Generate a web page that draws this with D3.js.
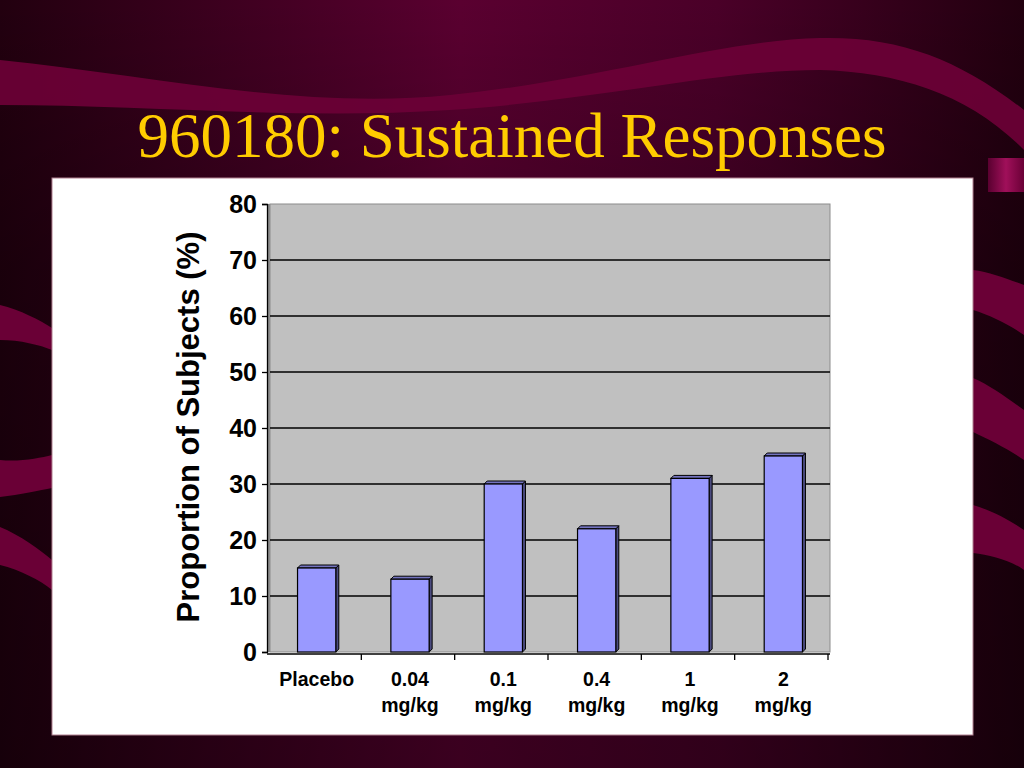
<!DOCTYPE html>
<html><head><meta charset="utf-8">
<script src="https://cdn.jsdelivr.net/npm/d3@7"></script>
<style>html,body{margin:0;padding:0;background:#2a0012;overflow:hidden}</style>
</head><body>
<script>
const categories = [["Placebo"],["0.04","mg/kg"],["0.1","mg/kg"],["0.4","mg/kg"],["1","mg/kg"],["2","mg/kg"]];
const values = [15, 13, 30, 22, 31, 35];
const yTicks = [0,10,20,30,40,50,60,70,80];
const titleText = "960180: Sustained Responses";
const yTitle = "Proportion of Subjects (%)";

(function(){
const W=1024,H=768;
const svg=d3.select("body").append("svg").attr("width",W).attr("height",H);
const defs=svg.append("defs");
const bg=defs.append("linearGradient").attr("id","bg").attr("x1",0).attr("x2",1).attr("y1",0).attr("y2",0);
bg.append("stop").attr("offset","0%").attr("stop-color","#22000f");
bg.append("stop").attr("offset","45%").attr("stop-color","#5a0030");
bg.append("stop").attr("offset","70%").attr("stop-color","#4a0028");
bg.append("stop").attr("offset","100%").attr("stop-color","#22000f");
svg.append("rect").attr("width",W).attr("height",H).attr("fill","url(#bg)");
const bg2=defs.append("linearGradient").attr("id","bg2").attr("x1",0).attr("x2",0).attr("y1",0).attr("y2",1);
bg2.append("stop").attr("offset","0%").attr("stop-color","#000").attr("stop-opacity",0);
bg2.append("stop").attr("offset","35%").attr("stop-color","#000").attr("stop-opacity",0.25);
bg2.append("stop").attr("offset","100%").attr("stop-color","#000").attr("stop-opacity",0.35);
svg.append("rect").attr("width",W).attr("height",H).attr("fill","url(#bg2)");

const band="#6a0036";
svg.append("path").attr("fill",band).attr("opacity",0.95)
 .attr("d","M0,60 C150,75 300,110 450,95 C600,80 720,40 820,38 C900,36 960,60 1024,110 L1024,150 C970,95 900,72 820,70 C720,70 600,100 450,110 C300,120 150,105 0,105 Z");
svg.append("path").attr("fill",band).attr("d","M0,305 C20,310 40,320 52,328 L52,350 C40,345 20,340 0,340 Z");
svg.append("path").attr("fill",band).attr("d","M0,460 C20,462 40,458 52,455 L52,488 C40,490 20,495 0,497 Z");
svg.append("path").attr("fill",band).attr("d","M0,527 C20,535 40,550 52,560 L52,590 C40,580 20,570 0,565 Z");
svg.append("path").attr("fill",band).attr("d","M973,270 C990,272 1010,280 1024,285 L1024,335 C1010,325 990,315 973,310 Z");
svg.append("path").attr("fill",band).attr("d","M973,378 C990,385 1010,400 1024,410 L1024,460 C1010,450 990,440 973,432 Z");
svg.append("path").attr("fill",band).attr("d","M973,505 C990,510 1010,520 1024,530 L1024,570 C1010,560 990,555 973,553 Z");
const rg=defs.append("linearGradient").attr("id","rg").attr("x1",0).attr("x2",1);
rg.append("stop").attr("offset","0%").attr("stop-color","#5a0030");
rg.append("stop").attr("offset","50%").attr("stop-color","#a0105a");
rg.append("stop").attr("offset","100%").attr("stop-color","#6a0036");
svg.append("rect").attr("x",988).attr("y",158).attr("width",36).attr("height",34).attr("fill","url(#rg)");

svg.append("text").attr("x",512).attr("y",157).attr("text-anchor","middle")
 .attr("font-family","'Liberation Serif','Times New Roman',serif").attr("font-size",63)
 .attr("fill","#ffcc00").text(titleText);

svg.append("rect").attr("x",52).attr("y",178).attr("width",921).attr("height",557).attr("fill","#fff").attr("stroke","#b08090").attr("stroke-width",1);

const pL=270,pR=830,pT=204,pB=652;
const x=d3.scaleBand().domain(d3.range(categories.length)).range([pL,pR]).paddingInner(0.59).paddingOuter(0.295);
const y=d3.scaleLinear().domain([0,80]).range([pB,pT]);
const g=svg.append("g");
g.append("rect").attr("x",pL-3).attr("y",pT).attr("width",3).attr("height",pB-pT).attr("fill","#8c8c8c");
g.append("rect").attr("x",pL).attr("y",pT).attr("width",pR-pL).attr("height",pB-pT).attr("fill","#c0c0c0").attr("stroke","#8c8c8c").attr("stroke-width",1);
g.selectAll(".grid").data(yTicks.filter(d=>d>0&&d<80)).join("line")
 .attr("x1",pL).attr("x2",pR).attr("y1",d=>y(d)).attr("y2",d=>y(d)).attr("stroke","#000").attr("stroke-width",1.3);

const dp=3;
const bars=g.selectAll(".bar").data(values).join("g");
bars.append("path").attr("fill","#4c4c80").attr("stroke","#000").attr("stroke-width",1)
 .attr("d",(d,i)=>{const x0=x(i)+x.bandwidth(),y0=y(d);return `M${x0},${y0} L${x0+dp},${y0-dp} L${x0+dp},${pB-dp} L${x0},${pB} Z`;});
bars.append("path").attr("fill","#7373bf").attr("stroke","#000").attr("stroke-width",1)
 .attr("d",(d,i)=>{const x0=x(i),x1=x(i)+x.bandwidth(),y0=y(d);return `M${x0},${y0} L${x0+dp},${y0-dp} L${x1+dp},${y0-dp} L${x1},${y0} Z`;});
bars.append("rect").attr("x",(d,i)=>x(i)).attr("y",d=>y(d)).attr("width",x.bandwidth()).attr("height",d=>pB-y(d))
 .attr("fill","#9999ff").attr("stroke","#000").attr("stroke-width",1.2);

const yAxis=d3.axisLeft(y).tickValues(yTicks).tickSize(5).tickPadding(5);
const ya=g.append("g").attr("transform",`translate(${pL-3},0)`).call(yAxis);
ya.select(".domain").attr("stroke","#000").attr("stroke-width",1.3);
ya.selectAll(".tick line").attr("stroke","#000").attr("stroke-width",1.3);
ya.selectAll("text").attr("font-family","Arial,'Liberation Sans',sans-serif").attr("font-weight","bold").attr("font-size",25).attr("fill","#000").attr("dy","0.35em");

g.append("line").attr("x1",pL-3).attr("x2",pR).attr("y1",pB+2).attr("y2",pB+2).attr("stroke","#000").attr("stroke-width",1.3);
const xt=d3.range(categories.length+1).map(i=>pL+(pR-pL)*i/categories.length);
g.selectAll(".xt").data(xt.slice(1)).join("line").attr("x1",d=>d-2).attr("x2",d=>d-2).attr("y1",pB+2).attr("y2",pB+8).attr("stroke","#000").attr("stroke-width",1.3);
const xl=g.selectAll(".xl").data(categories).join("text").attr("text-anchor","middle")
 .attr("font-family","Arial,'Liberation Sans',sans-serif").attr("font-weight","bold").attr("font-size",19.5).attr("fill","#000");
xl.each(function(c,i){
  const t=d3.select(this);
  c.forEach((s,j)=>t.append("tspan").attr("x",x(i)+x.bandwidth()/2).attr("y",686+j*26).text(s));
});

svg.append("text").attr("transform","translate(199,427) rotate(-90)").attr("text-anchor","middle")
 .attr("font-family","Arial,'Liberation Sans',sans-serif").attr("font-weight","bold").attr("font-size",31).attr("fill","#000").text(yTitle);
})();
</script>
</body></html>
